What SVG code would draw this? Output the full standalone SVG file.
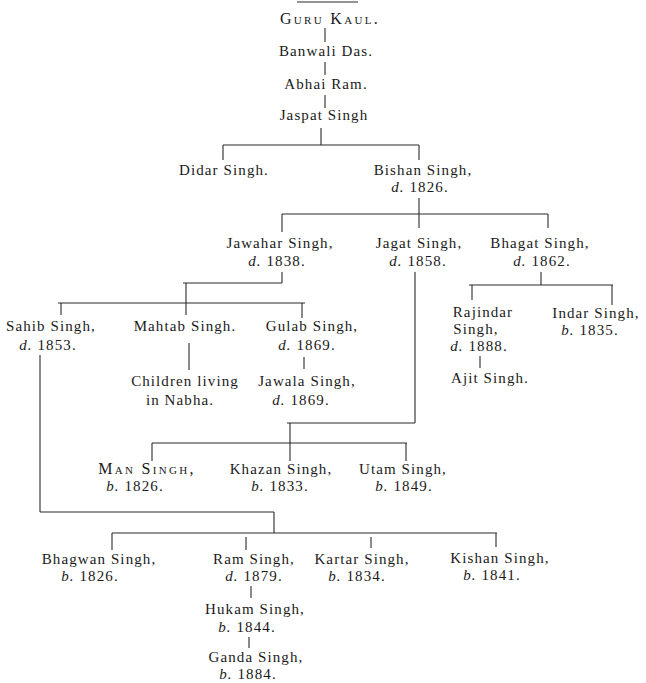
<svg xmlns="http://www.w3.org/2000/svg" width="646" height="683" viewBox="0 0 646 683">
<style>
text{font-family:"Liberation Serif","Times New Roman",serif;font-size:15px;fill:#1a1a1a;text-anchor:middle;letter-spacing:1.1px}
.sc{font-variant:small-caps;font-size:16px;letter-spacing:2.3px}
.i{font-style:italic}
#connectors line{stroke:#2a2a2a;stroke-width:1.1;fill:none}
</style>
<rect width="646" height="683" fill="#fff"/>
<g id="connectors">
<line x1="297" y1="2" x2="358" y2="2"/>
<line x1="325" y1="28" x2="325" y2="42"/>
<line x1="325" y1="62" x2="325" y2="75"/>
<line x1="325" y1="95" x2="325" y2="108"/>
<line x1="321" y1="128" x2="321" y2="145"/>
<line x1="223" y1="145" x2="419" y2="145"/>
<line x1="223" y1="145" x2="223" y2="160"/>
<line x1="419" y1="145" x2="419" y2="160"/>
<line x1="419" y1="198" x2="419" y2="214"/>
<line x1="282" y1="214" x2="548" y2="214"/>
<line x1="282" y1="214" x2="282" y2="232"/>
<line x1="419" y1="214" x2="419" y2="228"/>
<line x1="548" y1="214" x2="548" y2="228"/>
<line x1="282" y1="272" x2="282" y2="283"/>
<line x1="183" y1="283" x2="282" y2="283"/>
<line x1="186" y1="283" x2="186" y2="303"/>
<line x1="58" y1="303" x2="305" y2="303"/>
<line x1="61" y1="303" x2="61" y2="315"/>
<line x1="186" y1="303" x2="186" y2="315"/>
<line x1="302" y1="303" x2="302" y2="318"/>
<line x1="189" y1="343" x2="189" y2="370"/>
<line x1="304" y1="357" x2="304" y2="369"/>
<line x1="40" y1="355" x2="40" y2="512"/>
<line x1="40" y1="512" x2="274" y2="512"/>
<line x1="274" y1="512" x2="274" y2="533"/>
<line x1="415" y1="272" x2="415" y2="423"/>
<line x1="287" y1="423" x2="415" y2="423"/>
<line x1="290" y1="423" x2="290" y2="443"/>
<line x1="152" y1="443" x2="407" y2="443"/>
<line x1="152" y1="443" x2="152" y2="461"/>
<line x1="290" y1="443" x2="290" y2="461"/>
<line x1="406" y1="443" x2="406" y2="461"/>
<line x1="541" y1="272" x2="541" y2="285"/>
<line x1="469" y1="285" x2="613" y2="285"/>
<line x1="472" y1="285" x2="472" y2="300"/>
<line x1="612" y1="285" x2="612" y2="305"/>
<line x1="480" y1="356" x2="480" y2="368"/>
<line x1="112" y1="533" x2="497" y2="533"/>
<line x1="112" y1="533" x2="112" y2="550"/>
<line x1="246" y1="537" x2="246" y2="550"/>
<line x1="371" y1="537" x2="371" y2="548"/>
<line x1="496" y1="533" x2="496" y2="547"/>
<line x1="251" y1="586" x2="251" y2="598"/>
<line x1="249" y1="637" x2="249" y2="648"/>
</g>
<g id="guru-kaul"><text class="sc" x="330" y="24">Guru Kaul.</text></g>
<g id="banwali-das"><text x="326" y="56">Banwali Das.</text></g>
<g id="abhai-ram"><text x="326" y="89">Abhai Ram.</text></g>
<g id="jaspat-singh"><text x="324" y="120">Jaspat Singh</text></g>
<g id="didar-singh"><text x="224" y="175">Didar Singh.</text></g>
<g id="bishan-singh"><text x="423" y="175">Bishan Singh,</text><text x="420" y="192"><tspan class="i">d.</tspan> 1826.</text></g>
<g id="jawahar-singh"><text x="280" y="248">Jawahar Singh,</text><text x="277" y="266"><tspan class="i">d.</tspan> 1838.</text></g>
<g id="jagat-singh"><text x="419" y="248">Jagat Singh,</text><text x="418" y="266"><tspan class="i">d.</tspan> 1858.</text></g>
<g id="bhagat-singh"><text x="540" y="248">Bhagat Singh,</text><text x="542" y="266"><tspan class="i">d.</tspan> 1862.</text></g>
<g id="sahib-singh"><text x="51" y="331">Sahib Singh,</text><text x="48" y="350"><tspan class="i">d.</tspan> 1853.</text></g>
<g id="mahtab-singh"><text x="185" y="331">Mahtab Singh.</text></g>
<g id="gulab-singh"><text x="312" y="331">Gulab Singh,</text><text x="307" y="350"><tspan class="i">d.</tspan> 1869.</text></g>
<g id="children-nabha"><text x="185" y="386">Children living</text><text x="180" y="405">in Nabha.</text></g>
<g id="jawala-singh"><text x="307" y="386">Jawala Singh,</text><text x="301" y="405"><tspan class="i">d.</tspan> 1869.</text></g>
<g id="rajindar-singh"><text x="483" y="317">Rajindar</text><text x="476" y="334">Singh,</text><text x="479" y="351"><tspan class="i">d.</tspan> 1888.</text></g>
<g id="ajit-singh"><text x="490" y="383">Ajit Singh.</text></g>
<g id="indar-singh"><text x="596" y="318">Indar Singh,</text><text x="590" y="335"><tspan class="i">b.</tspan> 1835.</text></g>
<g id="man-singh"><text class="sc" x="147" y="474">Man Singh,</text><text x="135" y="491"><tspan class="i">b.</tspan> 1826.</text></g>
<g id="khazan-singh"><text x="281" y="474">Khazan Singh,</text><text x="280" y="491"><tspan class="i">b.</tspan> 1833.</text></g>
<g id="utam-singh"><text x="403" y="474">Utam Singh,</text><text x="404" y="491"><tspan class="i">b.</tspan> 1849.</text></g>
<g id="bhagwan-singh"><text x="99" y="564">Bhagwan Singh,</text><text x="90" y="581"><tspan class="i">b.</tspan> 1826.</text></g>
<g id="ram-singh"><text x="254" y="564">Ram Singh,</text><text x="254" y="581"><tspan class="i">d.</tspan> 1879.</text></g>
<g id="kartar-singh"><text x="362" y="564">Kartar Singh,</text><text x="357" y="581"><tspan class="i">b.</tspan> 1834.</text></g>
<g id="kishan-singh"><text x="500" y="563">Kishan Singh,</text><text x="492" y="580"><tspan class="i">b.</tspan> 1841.</text></g>
<g id="hukam-singh"><text x="255" y="614">Hukam Singh,</text><text x="247" y="632"><tspan class="i">b.</tspan> 1844.</text></g>
<g id="ganda-singh"><text x="256" y="662">Ganda Singh,</text><text x="248" y="679"><tspan class="i">b.</tspan> 1884.</text></g>
</svg>
